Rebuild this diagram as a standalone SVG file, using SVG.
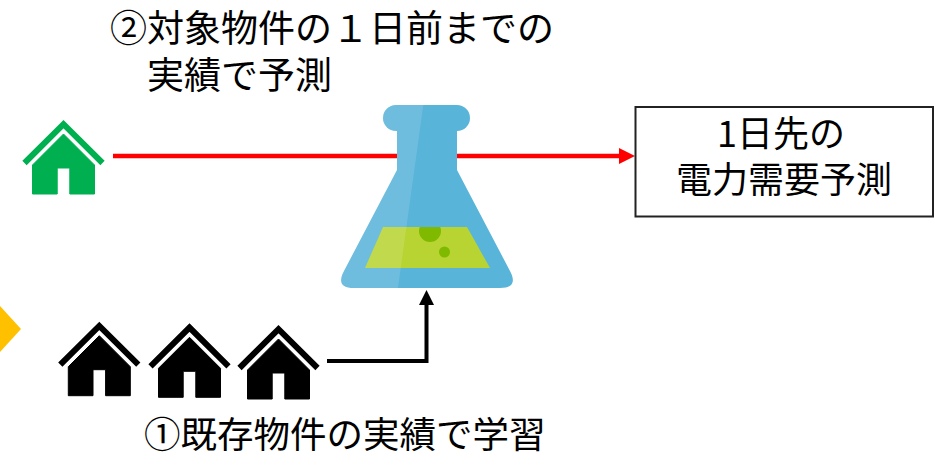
<svg xmlns="http://www.w3.org/2000/svg" width="940" height="458" viewBox="0 0 940 458">
  <style>
    .label { font-family: "Noto Sans CJK JP", "Noto Sans", sans-serif; fill: #000; }
    .house-roof { fill: none; stroke-width: 6; stroke-linejoin: miter; stroke-miterlimit: 4; }
  </style>
  <defs>
    <!-- house pictogram, apex of the roof at the origin -->
    <g id="house-shape">
      <polyline class="house-roof" stroke="inherit" points="-39,43 0,4.2 39,43"/>
      <polygon points="0,14 31,45 31,74 6.3,74 6.3,48 -6.3,48 -6.3,74 -31,74 -31,45"/>
    </g>
    <marker id="head-red" markerUnits="userSpaceOnUse" markerWidth="16" markerHeight="16" refX="2" refY="8" orient="auto">
      <path d="M0,0 L16,8 L0,16 Z" fill="#FF0000"/>
    </marker>
    <marker id="head-black" markerUnits="userSpaceOnUse" markerWidth="15" markerHeight="15" refX="2" refY="7.5" orient="auto">
      <path d="M0,0 L15,7.5 L0,15 Z" fill="#000"/>
    </marker>
    <clipPath id="flask-clip">
      <rect x="383" y="105" width="87" height="26" rx="13"/>
      <path d="M397,128 L457,128 L457,170 L510,271 Q519,288 500,288 L354,288 Q335,288 344,271 L397,170 Z"/>
    </clipPath>
    <clipPath id="liquid-clip">
      <polygon points="383,227 467,227 490,268 365,268"/>
    </clipPath>
  </defs>

  <!-- orange marker on the left edge -->
  <polygon id="edge-marker" points="0,306 21,329 0,352" fill="#FFC000"/>

  <!-- connectors -->
  <g id="connectors">
    <line x1="113" y1="156" x2="621" y2="156" stroke="#FF0000" stroke-width="4.5" marker-end="url(#head-red)"/>
    <polyline points="327,361 426.5,361 426.5,303" fill="none" stroke="#000" stroke-width="4" stroke-linejoin="miter" marker-end="url(#head-black)"/>
  </g>

  <!-- target property -->
  <g id="target-house" fill="#00B050" stroke="#00B050">
    <use href="#house-shape" transform="translate(63.5,120)"/>
  </g>

  <!-- existing properties -->
  <g id="existing-houses" fill="#000" stroke="#000">
    <use href="#house-shape" transform="translate(99.3,321.7)"/>
    <use href="#house-shape" transform="translate(189.5,323.3)"/>
    <use href="#house-shape" transform="translate(278.5,325)"/>
  </g>

  <!-- model (flask) -->
  <g id="model-flask">
    <rect x="383" y="105" width="87" height="26" rx="13" fill="#59B4D9"/>
    <path d="M397,128 L457,128 L457,170 L510,271 Q519,288 500,288 L354,288 Q335,288 344,271 L397,170 Z" fill="#59B4D9"/>
    <polygon points="383,227 467,227 490,268 365,268" fill="#B8D432"/>
    <g clip-path="url(#liquid-clip)" fill="#7FBA00">
      <circle cx="430" cy="231" r="11"/>
      <circle cx="444.5" cy="252" r="5.5"/>
    </g>
    <polygon points="300,100 424,100 397,295 300,295" fill="#FFFFFF" fill-opacity="0.13" clip-path="url(#flask-clip)"/>
  </g>

  <!-- forecast output -->
  <g id="forecast-box">
    <rect x="635.5" y="107" width="297.5" height="109.5" fill="#FFFFFF" stroke="#222" stroke-width="2"/>
    <text class="label" font-size="36" text-anchor="middle">
      <tspan x="785" y="147">1日先の</tspan>
      <tspan x="784" y="193">電力需要予測</tspan>
    </text>
  </g>

  <!-- step labels -->
  <g id="step2-label">
    <text class="label" font-size="37">
      <tspan x="110" y="42">②対象物件の１日前までの</tspan>
      <tspan x="147" y="89">実績で予測</tspan>
    </text>
  </g>
  <g id="step1-label">
    <text class="label" x="144" y="448" font-size="36.5">①既存物件の実績で学習</text>
  </g>
</svg>
